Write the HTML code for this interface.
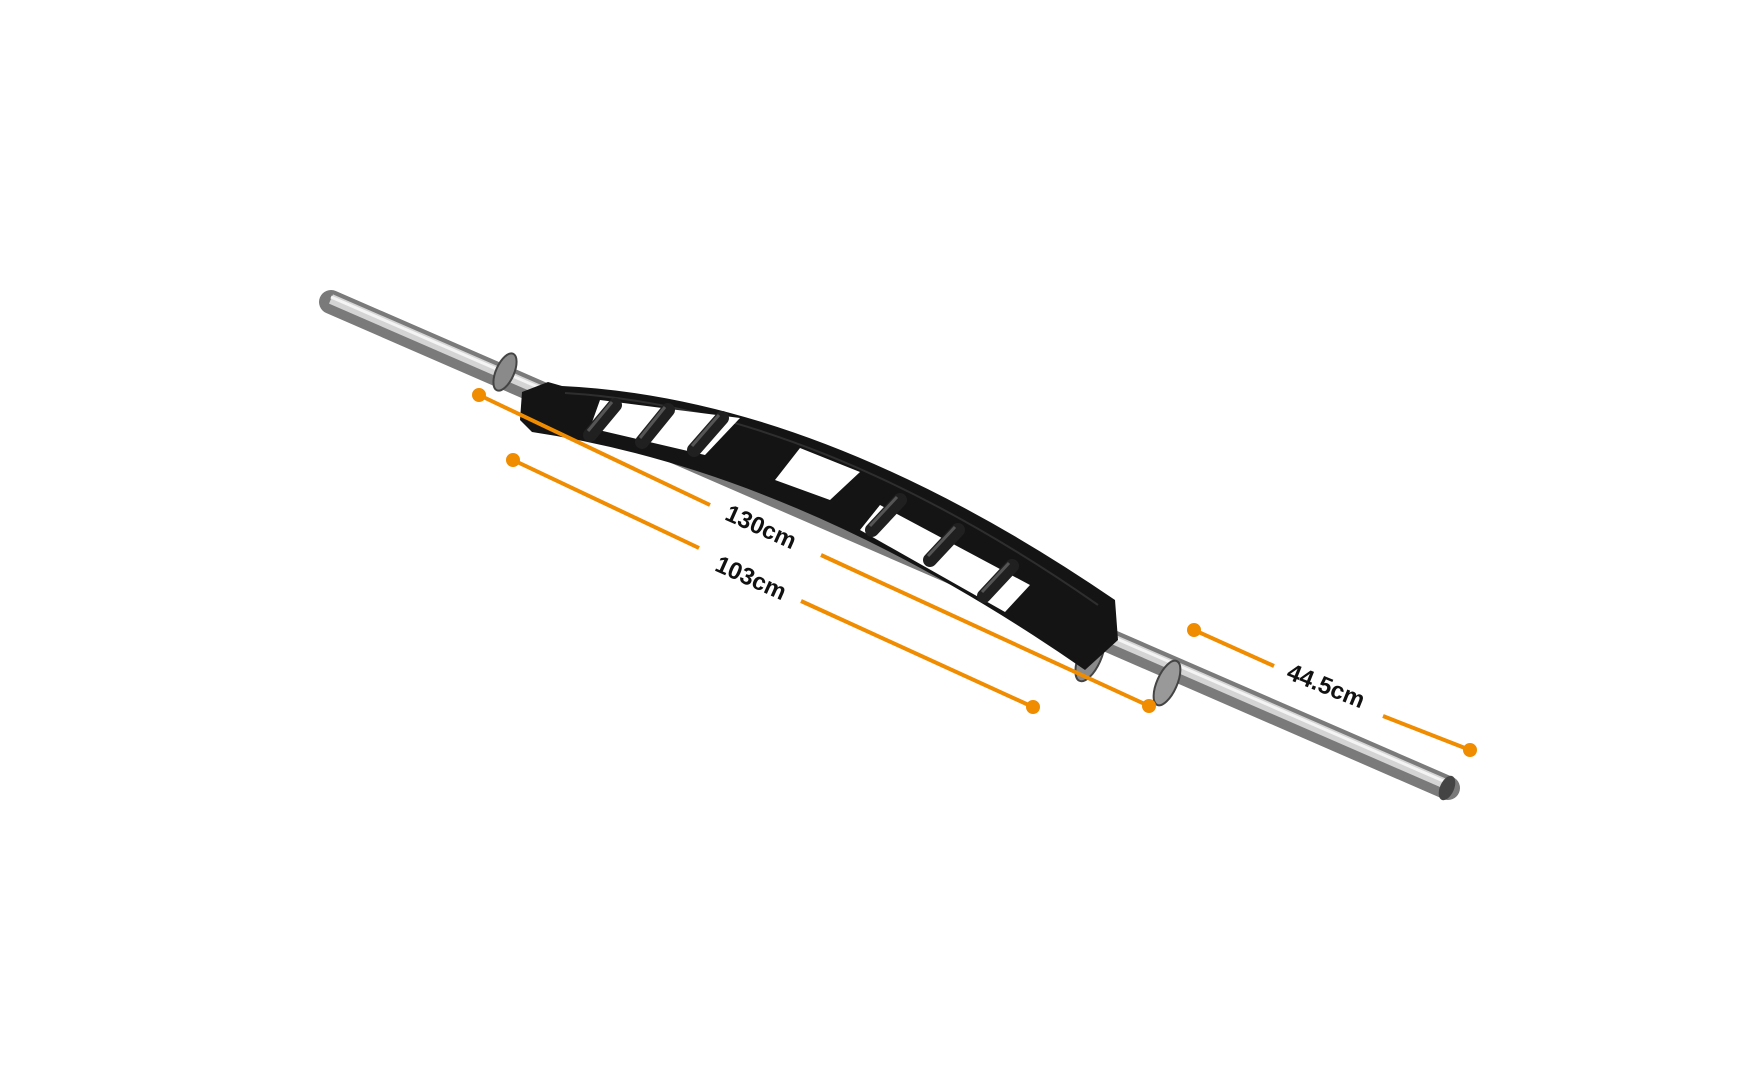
<!DOCTYPE html>
<html><head><meta charset="utf-8"><style>
html,body{margin:0;padding:0;background:#fff;}
svg{display:block}
text{font-family:"Liberation Sans",sans-serif;font-weight:bold;font-size:24px;fill:#111}
</style></head><body>
<svg width="1740" height="1080" viewBox="0 0 1740 1080" xmlns="http://www.w3.org/2000/svg">
<!-- bar -->
<line x1="331" y1="302" x2="1448" y2="788" stroke="#7a7a7a" stroke-width="24" stroke-linecap="round"/>
<line x1="331" y1="299" x2="1448" y2="785" stroke="#d4d4d4" stroke-width="10"/>
<line x1="331" y1="297" x2="1448" y2="783" stroke="#f4f4f4" stroke-width="3"/>
<ellipse cx="1447" cy="788" rx="7" ry="13" fill="#444" transform="rotate(24 1447 788)"/>
<!-- collars -->
<ellipse cx="505" cy="372" rx="9" ry="20" fill="#8a8a8a" stroke="#444" stroke-width="2" transform="rotate(24 505 372)"/>
<ellipse cx="1090" cy="657" rx="11" ry="26" fill="#8a8a8a" stroke="#444" stroke-width="2" transform="rotate(24 1090 657)"/>
<ellipse cx="1167" cy="683" rx="10" ry="24" fill="#999" stroke="#444" stroke-width="2" transform="rotate(24 1167 683)"/>
<!-- frame -->
<path d="M522 392 L548 382 L562 386 Q820 398 1115 600 L1118 640 L1085 670 Q800 472 532 432 L520 420 Z" fill="#141414"/>
<path d="M565 393 Q815 408 1098 605" stroke="#2e2e2e" stroke-width="2" fill="none"/>
<!-- windows -->
<path d="M600 400 L740 418 L705 455 L590 428 Z" fill="#fff"/>
<path d="M800 448 L860 472 L830 500 L775 480 Z" fill="#fff"/>
<path d="M880 505 L1030 585 L1005 612 L860 530 Z" fill="#fff"/>
<!-- rungs -->
<g stroke="#202020" stroke-width="14" stroke-linecap="round">
<line x1="615" y1="405" x2="590" y2="435"/>
<line x1="668" y1="410" x2="642" y2="442"/>
<line x1="722" y1="418" x2="694" y2="450"/>
<line x1="900" y1="500" x2="872" y2="530"/>
<line x1="958" y1="530" x2="930" y2="560"/>
<line x1="1012" y1="566" x2="984" y2="596"/>
</g>
<g stroke="#555" stroke-width="3">
<line x1="612" y1="402" x2="588" y2="431"/>
<line x1="665" y1="407" x2="640" y2="438"/>
<line x1="719" y1="415" x2="692" y2="446"/>
<line x1="897" y1="497" x2="870" y2="526"/>
<line x1="955" y1="527" x2="928" y2="556"/>
<line x1="1009" y1="563" x2="982" y2="592"/>
</g>
<!-- orange dims -->
<g stroke="#f08c00" stroke-width="4" fill="#f08c00">
<line x1="479" y1="395" x2="710" y2="505"/><line x1="821" y1="555" x2="1149" y2="706"/>
<line x1="513" y1="460" x2="699" y2="548"/><line x1="801" y1="601" x2="1033" y2="707"/>
<line x1="1194" y1="630" x2="1274" y2="666"/><line x1="1383" y1="716" x2="1470" y2="750"/>
<circle cx="479" cy="395" r="5"/><circle cx="1149" cy="706" r="5"/>
<circle cx="513" cy="460" r="5"/><circle cx="1033" cy="707" r="5"/>
<circle cx="1194" cy="630" r="5"/><circle cx="1470" cy="750" r="5"/>
</g>
<text x="761" y="535" text-anchor="middle" transform="rotate(24 761 527)">130cm</text>
<text x="751" y="586" text-anchor="middle" transform="rotate(24 751 578)">103cm</text>
<text x="1326" y="694" text-anchor="middle" transform="rotate(22 1326 686)">44.5cm</text>
</svg>
</body></html>
